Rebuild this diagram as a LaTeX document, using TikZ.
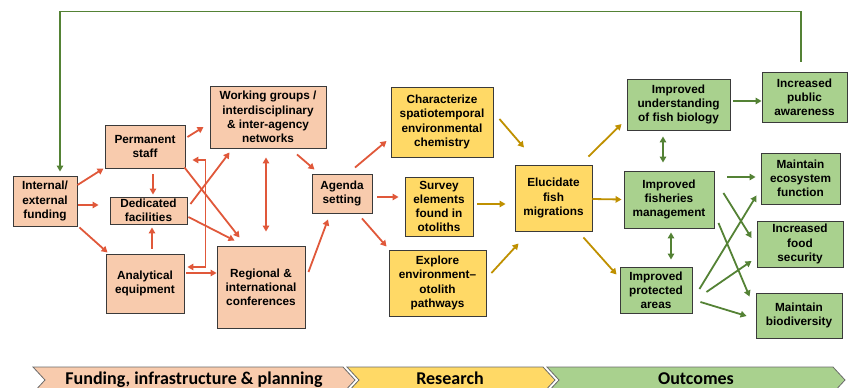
\documentclass[tikz,border=0pt]{standalone}
\usepackage{fontspec}
\setmainfont{Liberation Sans}
\newfontfamily\bannerfont{Carlito}
\usetikzlibrary{arrows.meta}

\definecolor{peach}{HTML}{F8CBAD}
\definecolor{sun}{HTML}{FFD966}
\definecolor{leaf}{HTML}{A9D18E}
\definecolor{redarr}{HTML}{E0583A}
\definecolor{goldarr}{HTML}{BF9000}
\definecolor{greenarr}{HTML}{548235}
\definecolor{edge}{HTML}{3A3A3A}
\definecolor{bandedge}{HTML}{6B6B6B}

\tikzset{
  box/.style={draw=edge, line width=0.9pt, inner sep=0pt, align=center,
    font=\fontsize{11.8}{14.2}\selectfont\bfseries},
  sz/.style 2 args={minimum width=#1pt, minimum height=#2pt},
  fundbox/.style={box, fill=peach},
  resbox/.style={box, fill=sun},
  outbox/.style={box, fill=leaf},
  redline/.style={draw=redarr, line width=1.8pt, ->},
  goldline/.style={draw=goldarr, line width=1.8pt, ->},
  greenline/.style={draw=greenarr, line width=1.8pt, ->},
  twoway/.style={<->},
  band/.style={draw=bandedge, line width=0.8pt},
  bandtext/.style={anchor=base, font=\bannerfont\bfseries\fontsize{18}{20}\selectfont}
}

\begin{document}
\begin{tikzpicture}[x=1pt, y=-1pt, >={Triangle[length=6pt,width=6.5pt]}]
\useasboundingbox (0,0) rectangle (849,388);

% ---------- funding, infrastructure & planning ----------
\node[fundbox, sz={64}{50}]  (fund)   at (45,201)    {Internal/\\external\\funding};
\node[fundbox, sz={80}{43}]  (perm)   at (145,146.5) {Permanent\\staff};
\node[fundbox, sz={77}{27}]  (fac)    at (148.5,210.5) {Dedicated\\facilities};
\node[fundbox, sz={78}{59}]  (equip)  at (145,283.5) {Analytical\\equipment};
\node[fundbox, sz={116}{62}] (work)   at (268,117)   {Working groups /\\interdisciplinary\\\& inter-agency\\networks};
\node[fundbox, sz={88}{82}]  (conf)   at (261,287)   {Regional \&\\international\\conferences};
\node[fundbox, sz={60}{39}]  (agenda) at (342,193.5) {Agenda\\setting};

% ---------- research ----------
\node[resbox, sz={102}{70}] (chem)    at (442,122)   {Characterize\\spatiotemporal\\environmental\\chemistry};
\node[resbox, sz={68}{59}]  (survey)  at (439,206.5) {Survey\\elements\\found in\\otoliths};
\node[resbox, sz={97}{66}]  (explore) at (437.5,283) {Explore\\environment–\\otolith\\pathways};
\node[resbox, sz={77}{66}]  (eluc)    at (553.5,198) {Elucidate\\fish\\migrations};

% ---------- outcomes ----------
\node[outbox, sz={103}{51}] (under)  at (678.5,104.5) {Improved\\understanding\\of fish biology};
\node[outbox, sz={85}{50}]  (public) at (804.5,97)    {Increased\\public\\awareness};
\node[outbox, sz={90}{57}]  (fish)   at (669,199.5)   {Improved\\fisheries\\management};
\node[outbox, sz={72}{46}]  (prot)   at (656,290)     {Improved\\protected\\areas};
\node[outbox, sz={79}{51}]  (eco)    at (800.5,178.5) {Maintain\\ecosystem\\function};
\node[outbox, sz={86}{46}]  (food)   at (800,244)     {Increased\\food\\security};
\node[outbox, sz={86}{45}]  (bio)    at (799,315.5)   {Maintain\\biodiversity};

% ---------- planning links ----------
\draw[redline] ([shift={(0,-16)}]fund.east) -- ([shift={(-1,0)}]perm.south west);
\draw[redline] ([shift={(1,4)}]fund.east) -- ([shift={(-11,-5.5)}]fac.west);
\draw[redline] ([shift={(2,1)}]fund.south east) -- ([shift={(2,-1)}]equip.north west);
\draw[redline] ([shift={(8,6)}]perm.south) -- ([shift={(4.5,-2)}]fac.north);
\draw[redline] ([shift={(7,-5)}]equip.north) -- ([shift={(3.5,3)}]fac.south);
\draw[redline] ([shift={(2,-9.5)}]perm.east) -- ([shift={(-6,10)}]work.west);
\draw[redline] ([shift={(-1,-1)}]perm.south east) -- ([shift={(23,-8)}]conf.north west);
\draw[redline] ([shift={(3,-6.5)}]fac.east) -- ([shift={(20,4)}]work.south west);
\draw[redline] ([shift={(1,6.5)}]fac.east) -- ([shift={(18,-5)}]conf.north west);
\draw[redline, twoway] ([shift={(7,13.5)}]perm.east) -- ++(13,0) -- ++(0,107) -- ([shift={(3,-16.5)}]equip.east);
\draw[redline] ([shift={(2,-10.5)}]equip.east) -- ([shift={(0,-14)}]conf.west);
\draw[redline, twoway] ([shift={(-2,9)}]work.south) -- ([shift={(5,-14)}]conf.north);
\draw[redline] ([shift={(29,6)}]work.south) -- ([shift={(3,-4)}]agenda.north west);
\draw[redline] ([shift={(3,-15)}]conf.east) -- ([shift={(-14,6)}]agenda.south);
\draw[redline] ([shift={(13,-6)}]agenda.north) -- ([shift={(-4,19)}]chem.west);
\draw[redline] ([shift={(5,3.5)}]agenda.east) -- ([shift={(-6,-9.5)}]survey.west);
\draw[redline] ([shift={(20,5)}]agenda.south) -- ([shift={(-2,-3)}]explore.north west);

% ---------- research links ----------
\draw[goldline] ([shift={(6,-3)}]chem.east) -- ([shift={(-29.5,-17)}]eluc.north);
\draw[goldline] ([shift={(4,-2.5)}]survey.east) -- ([shift={(-9,6)}]eluc.west);
\draw[goldline] ([shift={(5,-10)}]explore.east) -- ([shift={(4,12)}]eluc.south west);
\draw[goldline] ([shift={(-4,-8)}]eluc.north east) -- ([shift={(-5,19.5)}]under.west);
\draw[goldline] ([shift={(0,1)}]eluc.east) -- ([shift={(-2,0)}]fish.west);
\draw[goldline] ([shift={(-9,6)}]eluc.south east) -- ([shift={(-3,8)}]prot.north west);

% ---------- outcome links ----------
\draw[greenline] ([shift={(3,-3.5)}]under.east) -- ([shift={(0,4)}]public.west);
\draw[greenline, twoway] ([shift={(-15.5,6)}]under.south) -- ([shift={(-6,-8)}]fish.north);
\draw[greenline, twoway] ([shift={(2,4)}]fish.south) -- ([shift={(15,-7)}]prot.north);
\draw[greenline] ([shift={(13,-22.5)}]fish.east) -- ([shift={(-5,-1.5)}]eco.west);
\draw[greenline] ([shift={(9,-6.5)}]fish.east) -- ([shift={(-5,-6)}]food.west);
\draw[greenline] ([shift={(4,23.5)}]fish.east) -- ([shift={(-6,4)}]bio.north west);
\draw[greenline] ([shift={(7,-1)}]prot.east) -- ([shift={(-4,-9)}]eco.south west);
\draw[greenline] ([shift={(14,2)}]prot.east) -- ([shift={(-5,17)}]food.west);
\draw[greenline] ([shift={(8,12)}]prot.east) -- ([shift={(-9,0.5)}]bio.west);

% feedback from public awareness back to funding
\draw[greenline] ([shift={(-3.5,-10)}]public.north) -- ++(0,-50) -| ([shift={(15,-4)}]fund.north);

% ---------- phase banner ----------
\begin{scope}
  \clip (0,0) rectangle (849,388);
  \filldraw[band, fill=peach] (33,367) -- (343,367) -- (355,380) -- (343,393) -- (33,393) -- (45,380) -- cycle;
  \filldraw[band, fill=sun]   (347,367) -- (543,367) -- (555,380) -- (543,393) -- (347,393) -- (359,380) -- cycle;
  \filldraw[band, fill=leaf]  (547,367) -- (833,367) -- (845,380) -- (833,393) -- (547,393) -- (559,380) -- cycle;
\end{scope}
\node[bandtext] (phase1) at (194,384) {Funding, infrastructure \& planning};
\node[bandtext] (phase2) at (450,384) {Research};
\node[bandtext] (phase3) at (696,384) {Outcomes};

\end{tikzpicture}
\end{document}
